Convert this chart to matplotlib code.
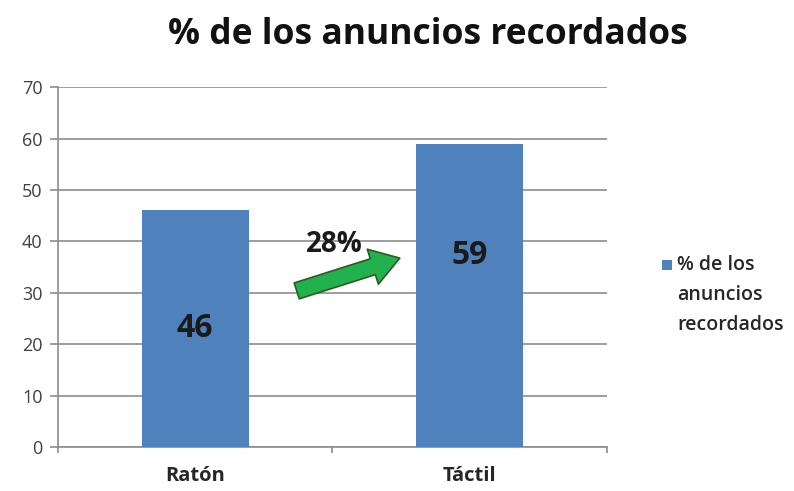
import matplotlib.pyplot as plt
from matplotlib.patches import FancyArrowPatch

categories = ['Ratón', 'Táctil']
values = [46, 59]
legend_lines = ['% de los', 'anuncios', 'recordados']
title = '% de los anuncios recordados'
growth = '28%'

plt.rcParams['font.family'] = ['Open Sans', 'DejaVu Sans']

fig = plt.figure(figsize=(7.94, 4.91), dpi=100)
ax = fig.add_axes([0.073, 0.0896, 0.6915, 0.733])

bar_color = '#4F81BD'
x = range(len(categories))
ax.bar(x, values, width=0.39, color=bar_color, zorder=3)

ax.set_xlim(-0.5, 1.5)
ax.set_ylim(0, 70)
ax.set_yticks(range(0, 71, 10))
ax.yaxis.grid(True, color='#8c8c8c', lw=1.2, zorder=0)

# ticks on category boundaries, names under the bars
ax.set_xticks([-0.5, 0.5, 1.5])
ax.set_xticklabels([])
ax.set_xticks(list(x), minor=True)
ax.set_xticklabels(categories, minor=True, fontsize=14.5, fontweight='bold', color='#262626')
ax.tick_params(axis='x', which='minor', length=0, pad=14)
ax.tick_params(axis='x', which='major', length=4, color='#8c8c8c', width=1.2)
ax.tick_params(axis='y', length=6, color='#8c8c8c', width=1.2, labelsize=13,
               labelcolor='#404040', pad=5)

for s in ['top', 'right']:
    ax.spines[s].set_visible(False)
for s in ['left', 'bottom']:
    ax.spines[s].set_color('#8c8c8c')
    ax.spines[s].set_linewidth(1.2)

# value labels
ax.text(0, 23, str(values[0]), ha='center', va='center', fontsize=23,
        fontweight='bold', color='#1a1a1a', zorder=4)
ax.text(1, 37.3, str(values[1]), ha='center', va='center', fontsize=23,
        fontweight='bold', color='#1a1a1a', zorder=4)

# green growth arrow
arrow = FancyArrowPatch((0.36, 30.2), (0.755, 36.9),
                        arrowstyle='simple,head_width=2.2,head_length=1.7,tail_width=1.0',
                        mutation_scale=12, facecolor='#22B14C', edgecolor='#2e5a22',
                        lw=1.2, zorder=5)
ax.add_patch(arrow)
ax.text(0.505, 39.3, growth, ha='center', va='center', fontsize=20,
        fontweight='bold', color='#1a1a1a', zorder=6)

fig.text(0.539, 0.929, title, ha='center', va='center', fontsize=25.5,
         fontweight='bold', color='#111111')

# legend
fig.patches.append(plt.Rectangle((0.8338, 0.450), 0.0126, 0.0204, transform=fig.transFigure,
                                 facecolor=bar_color, edgecolor='none'))
for i, line in enumerate(legend_lines):
    fig.text(0.853, 0.4603 - i * 0.0611, line, ha='left', va='center', fontsize=14,
             fontweight='semibold', color='#262626')

fig.savefig('out.png', dpi=100)
